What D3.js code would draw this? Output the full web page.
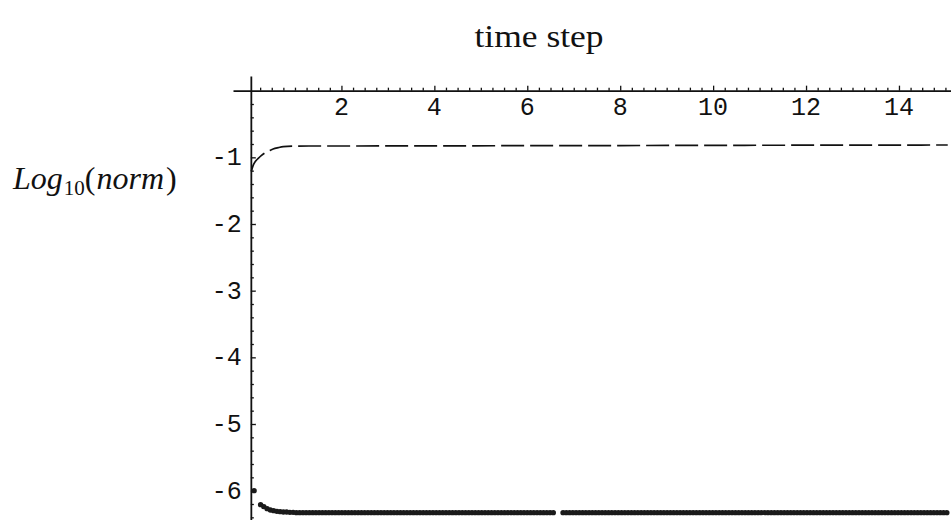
<!DOCTYPE html>
<html>
<head>
<meta charset="utf-8">
<script src="https://cdn.jsdelivr.net/npm/d3@7"></script>
<style>
  html, body { margin: 0; padding: 0; background: #fff; }
  svg { display: block; }
</style>
</head>
<body>
<svg id="chart" width="951" height="520"></svg>
<script>
// ---- data ----
const xTickValues = [2, 4, 6, 8, 10, 12, 14];
const yTickValues = [-1, -2, -3, -4, -5, -6];

// dashed series (norm of solution)
const dashTimes  = [0.06, 0.10, 0.15, 0.21, 0.28, 0.36, 0.45, 0.53, 0.64, 0.75, 0.96, 1.3, 2.0, 4.0, 6.0, 8.0, 10.0, 12.0, 14.0, 15.05];
const dashValues = [-1.21, -1.12, -1.06, -1.015, -0.97, -0.93, -0.90, -0.875, -0.855, -0.84, -0.832, -0.83, -0.83, -0.828, -0.825, -0.823, -0.82, -0.818, -0.816, -0.815];

// dotted series (error)
const firstDotTime = 0.12, firstDotValue = -6.0;
const dotStart = 0.26, dotStep = 0.07;
const dotValues = [
  -6.21,-6.24,-6.27,-6.29,-6.30,-6.31,-6.315,-6.32,-6.32,-6.325,
  -6.325,-6.33,-6.33,-6.33,-6.33,-6.33,-6.33,-6.33,-6.33,-6.33,
  -6.33,-6.33,-6.33,-6.33,-6.33,-6.33,-6.33,-6.33,-6.33,-6.33,
  -6.33,-6.33,-6.33,-6.33,-6.33,-6.33,-6.33,-6.33,-6.33,-6.33,
  -6.33,-6.33,-6.33,-6.33,-6.33,-6.33,-6.33,-6.33,-6.33,-6.33,
  -6.33,-6.33,-6.33,-6.33,-6.33,-6.33,-6.33,-6.33,-6.33,-6.33,
  -6.33,-6.33,-6.33,-6.33,-6.33,-6.33,-6.33,-6.33,-6.33,-6.33,
  -6.33,-6.33,-6.33,-6.33,-6.33,-6.33,-6.33,-6.33,-6.33,-6.33,
  -6.33,-6.33,-6.33,-6.33,-6.33,-6.33,-6.33,-6.33,-6.33,-6.33,
  -6.33,null,null,-6.33,-6.33,-6.33,-6.33,-6.33,-6.33,-6.33,
  -6.33,-6.33,-6.33,-6.33,-6.33,-6.33,-6.33,-6.33,-6.33,-6.33,
  -6.33,-6.33,-6.33,-6.33,-6.33,-6.33,-6.33,-6.33,-6.33,-6.33,
  -6.33,-6.33,-6.33,-6.33,-6.33,-6.33,-6.33,-6.33,-6.33,-6.33,
  -6.33,-6.33,-6.33,-6.33,-6.33,-6.33,-6.33,-6.33,-6.33,-6.33,
  -6.33,-6.33,-6.33,-6.33,-6.33,-6.33,-6.33,-6.33,-6.33,-6.33,
  -6.33,-6.33,-6.33,-6.33,-6.33,-6.33,-6.33,-6.33,-6.33,-6.33,
  -6.33,-6.33,-6.33,-6.33,-6.33,-6.33,-6.33,-6.33,-6.33,-6.33,
  -6.33,-6.33,-6.33,-6.33,-6.33,-6.33,-6.33,-6.33,-6.33,-6.33,
  -6.33,-6.33,-6.33,-6.33,-6.33,-6.33,-6.33,-6.33,-6.33,-6.33,
  -6.33,-6.33,-6.33,-6.33,-6.33,-6.33,-6.33,-6.33,-6.33,-6.33,
  -6.33,-6.33,-6.33,-6.33,-6.33,-6.33,-6.33,-6.33,-6.33,-6.33,
  -6.33,-6.33
];

const xTitle = "time step";

// ---- layout ----
const svg = d3.select("#chart");
const x = d3.scaleLinear().domain([-0.334, 15.12]).range([233, 951]);
const y = d3.scaleLinear().domain([0.22, -6.44]).range([76, 520]);
const yAxisAt = 0.05;
const ink = "#111";
const monoFont = "'Liberation Mono', 'Courier New', monospace";
const serifFont = "'Liberation Serif', 'DejaVu Serif', serif";

// x axis (at y = 0) with ticks pointing up
const xMinor = d3.range(0.25, 15.1, 0.25).filter(v => Math.abs(v / 2 - Math.round(v / 2)) > 1e-6);
const xAxisMajor = d3.axisTop(x).tickValues(xTickValues).tickSize(5).tickSizeOuter(0).tickFormat("");
const xAxisMinor = d3.axisTop(x).tickValues(xMinor).tickSize(3).tickSizeOuter(0).tickFormat("");
const gx = svg.append("g").attr("transform", `translate(0,${y(0)})`);
gx.call(xAxisMajor);
gx.append("g").call(xAxisMinor).select(".domain").remove();
gx.selectAll("path.domain").attr("stroke", ink).attr("stroke-width", 1.8);
gx.selectAll("line").attr("stroke", ink).attr("stroke-width", 1.3);

svg.append("g").selectAll("text").data(xTickValues).join("text")
  .attr("x", d => x(d)).attr("y", y(0) + 24)
  .attr("text-anchor", "middle")
  .attr("font-family", monoFont)
  .attr("font-size", 25).attr("fill", ink)
  .text(d => d);

// y axis with ticks pointing right
const yMinor = d3.range(-6.4, 0.01, 0.2).filter(v => Math.abs(v - Math.round(v)) > 1e-6);
const yAxisMajor = d3.axisLeft(y).tickValues(yTickValues).tickSize(-5).tickSizeOuter(0).tickFormat("");
const yAxisMinor = d3.axisLeft(y).tickValues(yMinor).tickSize(-3).tickSizeOuter(0).tickFormat("");
const gy = svg.append("g").attr("transform", `translate(${x(yAxisAt)},0)`);
gy.call(yAxisMajor);
gy.append("g").call(yAxisMinor).select(".domain").remove();
gy.selectAll("path.domain").attr("stroke", ink).attr("stroke-width", 1.8);
gy.selectAll("line").attr("stroke", ink).attr("stroke-width", 1.3);

svg.append("g").selectAll("text").data(yTickValues).join("text")
  .attr("x", x(yAxisAt) - 9).attr("y", d => y(d) + 8)
  .attr("text-anchor", "end")
  .attr("font-family", monoFont)
  .attr("font-size", 25).attr("fill", ink)
  .text(d => "-" + Math.abs(d));

// dashed series
const dashData = dashTimes.map((t, i) => ({ t, v: dashValues[i] }));
svg.append("path")
  .datum(dashData)
  .attr("fill", "none")
  .attr("stroke", ink)
  .attr("stroke-width", 1.7)
  .attr("stroke-dasharray", "23,6")
  .attr("d", d3.line().x(d => x(d.t)).y(d => y(d.v)).curve(d3.curveMonotoneX));

// dotted series
const dotData = [{ t: firstDotTime, v: firstDotValue }]
  .concat(dotValues.map((v, i) => ({ t: dotStart + i * dotStep, v })))
  .filter(d => d.v !== null);
svg.append("g").selectAll("circle").data(dotData).join("circle")
  .attr("cx", d => x(d.t)).attr("cy", d => y(d.v))
  .attr("r", 2.7)
  .attr("fill", "#1a1a1a");

// titles
svg.append("text")
  .attr("x", 539).attr("y", 47)
  .attr("text-anchor", "middle")
  .attr("font-family", serifFont)
  .attr("font-size", 32).attr("fill", ink)
  .attr("textLength", 129).attr("lengthAdjust", "spacingAndGlyphs")
  .text(xTitle);

const yl = svg.append("text")
  .attr("x", 13).attr("y", 189)
  .attr("font-family", serifFont)
  .attr("font-size", 32).attr("fill", ink);
yl.append("tspan").attr("font-style", "italic").text("Log");
yl.append("tspan").attr("font-size", 21).attr("dy", 6).attr("dx", 1).text("10");
yl.append("tspan").attr("dy", -6).text("(");
yl.append("tspan").attr("font-style", "italic").attr("dx", 1).text("norm");
yl.append("tspan").attr("dx", 2).text(")");
</script>
</body>
</html>
